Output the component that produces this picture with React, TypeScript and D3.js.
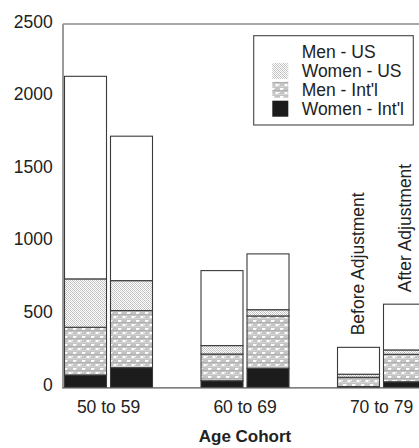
import React from "react";
import * as d3 from "d3";

const cohorts = ["50 to 59", "60 to 69", "70 to 79"];
const adjustments = ["Before Adjustment", "After Adjustment"];
const seriesNames = ["Women - Int'l", "Men - Int'l", "Women - US", "Men - US"];
// segment values per bar, order: [cohort][adjustment]
const womenIntl = [[85, 135], [45, 131], [5, 38]];
const menIntl = [[328, 393], [184, 360], [64, 189]];
const womenUS = [[333, 206], [58, 43], [21, 30]];
const menUS = [[1394, 994], [516, 384], [185, 315]];
const yTicks = [0, 500, 1000, 1500, 2000, 2500];

const W = 419;
const H = 448;
const FONT = "'Liberation Sans', Arial, sans-serif";

export default function App() {
  const y = d3.scaleLinear().domain([0, 2500]).range([387.3, 24]);
  const xc = d3.scalePoint<string>().domain(cohorts).range([108.5, 381.5]);
  const xb = d3.scaleBand<string>().domain(adjustments).range([-44, 44]).paddingInner(0.087);
  const fills = ["#1c1c1c", "url(#pMenIntl)", "url(#pWomenUS)", "#ffffff"];
  const seriesData = [womenIntl, menIntl, womenUS, menUS];

  const bars: React.ReactNode[] = [];
  cohorts.forEach((c, ci) => {
    adjustments.forEach((a, ai) => {
      const x0 = (xc(c) as number) + (xb(a) as number);
      const bw = xb.bandwidth();
      let cum = 0;
      seriesData.forEach((s, si) => {
        const v = s[ci][ai];
        const y1 = y(cum);
        const y2 = y(cum + v);
        cum += v;
        bars.push(
          <rect key={`${ci}-${ai}-${si}`} x={x0} y={y2} width={bw} height={Math.max(0, y1 - y2)}
            fill={fills[si]} stroke="#3a3a3a" strokeWidth={1.1} />
        );
      });
      const top = y(cum);
      if (ci === 2) {
        bars.push(
          <text key={`lab-${ci}-${ai}`} transform={`translate(${x0 + bw / 2 + 6},${top - 12}) rotate(-90)`}
            fontSize={17.5} fontFamily={FONT} fill="#222" textAnchor="start">{a}</text>
        );
      }
    });
  });

  const legendOrder = [3, 2, 1, 0];
  return (
    <svg width={W} height={H} style={{ position: "absolute", left: 0, top: 0, background: "#fff" }}>
      <defs>
        <pattern id="pWomenUS" width={4} height={4} patternUnits="userSpaceOnUse">
          <rect width={4} height={4} fill="#ffffff" />
          <rect x={0} y={0} width={1} height={1} fill="#b8b8b8" />
          <rect x={2} y={0} width={1} height={1} fill="#c8c8c8" />
          <rect x={1} y={1} width={1} height={1} fill="#c0c0c0" />
          <rect x={3} y={1} width={1} height={1} fill="#d0d0d0" />
          <rect x={0} y={2} width={1} height={1} fill="#c8c8c8" />
          <rect x={2} y={2} width={1} height={1} fill="#b8b8b8" />
          <rect x={1} y={3} width={1} height={1} fill="#d4d4d4" />
          <rect x={3} y={3} width={1} height={1} fill="#c0c0c0" />
        </pattern>
        <pattern id="pMenIntl" width={9} height={8} patternUnits="userSpaceOnUse">
          <rect width={9} height={8} fill="#c4c4c4" />
          <rect x={0} y={2} width={9} height={1} fill="#b0b0b0" />
          <rect x={0} y={6} width={9} height={1} fill="#d4d4d4" />
          <rect x={1} y={0} width={3} height={2} fill="#ffffff" />
          <rect x={5.5} y={4} width={3} height={2} fill="#ffffff" />
          <rect x={0} y={4} width={1} height={1} fill="#ffffff" />
          <rect x={4} y={0} width={1} height={1} fill="#e8e8e8" />
        </pattern>
      </defs>
      {/* frame */}
      <line x1={63} x2={W} y1={24} y2={24} stroke="#8a8a8a" strokeWidth={1.6} />
      <line x1={63} x2={63} y1={24} y2={387.3} stroke="#9a9a9a" strokeWidth={2} />
      {bars}
      <line x1={62} x2={W} y1={387.8} y2={387.8} stroke="#555" strokeWidth={1.2} />
      {/* y ticks */}
      {yTicks.map((t) => (
        <text key={t} x={52.7} y={y(t) - 2.5} textAnchor="end" dominantBaseline="central"
          fontSize={17.5} fontFamily={FONT} fill="#222">{t}</text>
      ))}
      {/* x labels */}
      {cohorts.map((c) => (
        <text key={c} x={xc(c) as number} y={413} textAnchor="middle" fontSize={17.5}
          fontFamily={FONT} fill="#222">{c}</text>
      ))}
      <text x={245} y={442} textAnchor="middle" fontSize={17} fontWeight="bold"
        fontFamily={FONT} fill="#222">Age Cohort</text>
      {/* legend */}
      <rect x={253.7} y={35.7} width={159.6} height={89.3} fill="#fff" stroke="#444" strokeWidth={1.1} />
      {legendOrder.map((si, i) => {
        const cy = 52 + i * 18.9;
        return (
          <g key={si}>
            <rect x={272.3} y={cy - 8} width={16} height={16} fill={fills[si]} />
            <text x={301.7} y={cy} dominantBaseline="central" fontSize={17.5}
              fontFamily={FONT} fill="#222">{seriesNames[si]}</text>
          </g>
        );
      })}
    </svg>
  );
}
